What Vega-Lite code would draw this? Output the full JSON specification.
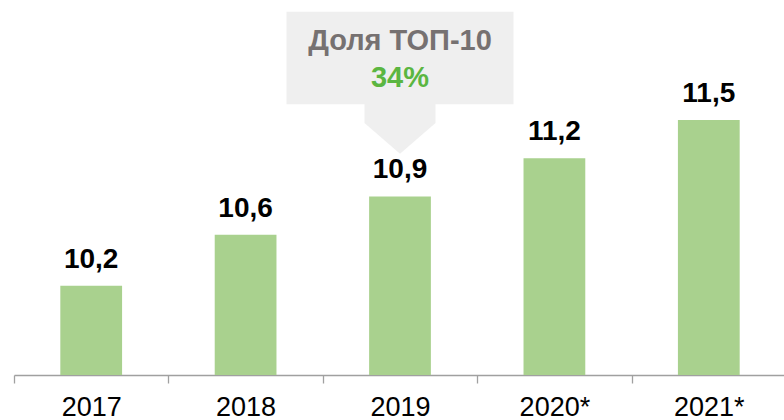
{
  "$schema": "https://vega.github.io/schema/vega-lite/v6.json",
  "autosize": "none",
  "width": 772,
  "height": 375,
  "padding": {"left": 14, "top": 0, "right": 0, "bottom": 45},
  "background": "white",
  "config": {
    "view": {"stroke": null},
    "font": "Liberation Sans",
    "locale": {"number": {"decimal": ",", "thousands": " ", "grouping": [3], "currency": ["", ""]}}
  },
  "data": {"values": [
    {"year": "2017", "value": 10.2},
    {"year": "2018", "value": 10.6},
    {"year": "2019", "value": 10.9},
    {"year": "2020*", "value": 11.2},
    {"year": "2021*", "value": 11.5}
  ]},
  "encoding": {
    "x": {
      "field": "year", "type": "nominal", "sort": null,
      "scale": {"paddingInner": 0, "paddingOuter": 0},
      "axis": {
        "title": null, "labelAngle": 0, "labelFontSize": 27, "labelColor": "#000000",
        "labelFont": "Liberation Sans", "labelPadding": 11,
        "domainColor": "#a0a0a0", "domainWidth": 1.3, "tickColor": "#a0a0a0", "tickWidth": 1.3,
        "tickSize": 8, "tickBand": "extent", "grid": false
      }
    }
  },
  "layer": [
    {
      "mark": {"type": "bar", "color": "#a9d18e", "width": {"band": 0.4}},
      "encoding": {
        "y": {"field": "value", "type": "quantitative", "scale": {"domain": [9.5, 12.44], "zero": false, "nice": false}, "axis": null},
        "y2": {"datum": 9.5}
      }
    },
    {
      "mark": {"type": "text", "baseline": "alphabetic", "dy": -18, "fontSize": 28, "fontWeight": "bold", "color": "#000000"},
      "encoding": {
        "y": {"field": "value", "type": "quantitative"},
        "text": {"field": "value", "type": "quantitative", "format": ".1f"}
      }
    },
    {
      "data": {"values": [{"year": "2019", "title": "Доля ТОП-10", "share": "34%"}]},
      "layer": [
        {
          "mark": {"type": "bar", "width": 227, "color": "#efefef"},
          "encoding": {
            "y": {"datum": 12.348, "type": "quantitative"},
            "y2": {"datum": 11.622}
          }
        },
        {
          "mark": {"type": "point", "filled": true, "opacity": 1, "color": "#efefef", "strokeWidth": 0, "size": 5041,
            "shape": "M-1,-0.78 L1,-0.78 L1,-0.17 L0,0.7 L-1,-0.17 Z"},
          "encoding": {
            "y": {"datum": 11.429, "type": "quantitative"}
          }
        },
        {
          "mark": {"type": "text", "baseline": "alphabetic", "fontSize": 29, "fontWeight": "bold", "color": "#767171"},
          "encoding": {
            "y": {"datum": 12.048, "type": "quantitative"},
            "text": {"field": "title"}
          }
        },
        {
          "mark": {"type": "text", "baseline": "alphabetic", "fontSize": 29, "fontWeight": "bold", "color": "#5bb641"},
          "encoding": {
            "y": {"datum": 11.76, "type": "quantitative"},
            "text": {"field": "share"}
          }
        }
      ]
    }
  ]
}
